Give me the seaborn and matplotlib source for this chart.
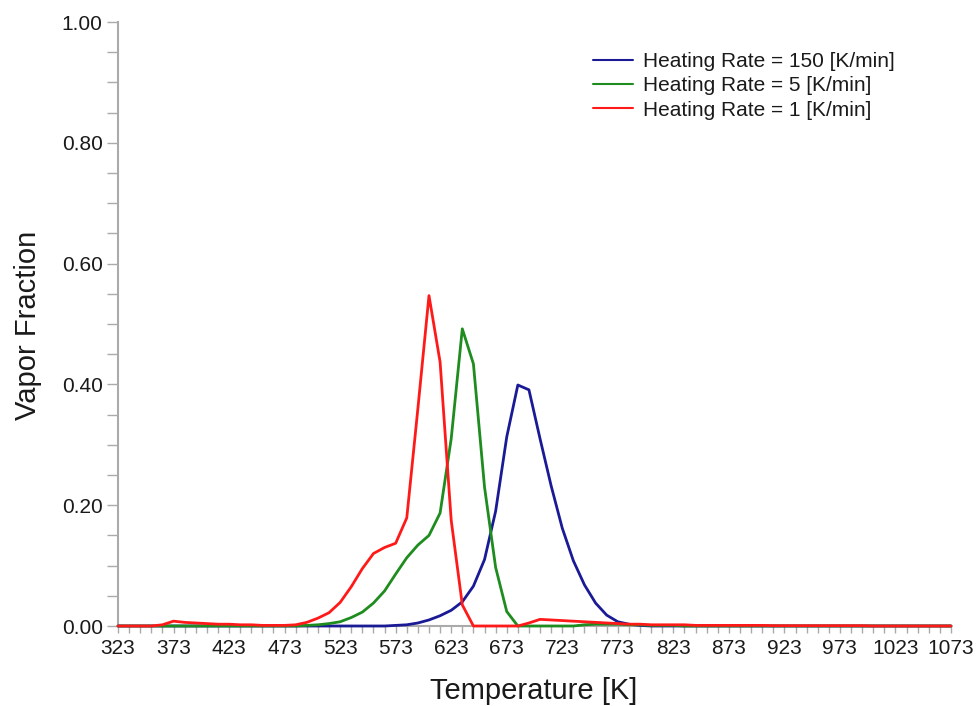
import matplotlib
matplotlib.use("Agg")
import matplotlib.pyplot as plt
import seaborn as sns
import pandas as pd

# Temperature grid [K], sampled every 10 K
temperature = list(range(323, 1074, 10))

# Vapor fraction for each heating rate
vf_150 = [0.0] * 25 + [
    0.001, 0.002, 0.005, 0.010, 0.017, 0.026, 0.040, 0.066, 0.110, 0.190,
    0.313, 0.399, 0.391, 0.310, 0.232, 0.162, 0.108, 0.068, 0.038, 0.018,
    0.007, 0.003, 0.001,
] + [0.0] * 28

vf_5 = [0.0] * 17 + [
    0.001, 0.002, 0.004, 0.007, 0.014, 0.023, 0.038, 0.058, 0.086, 0.113,
    0.134, 0.150, 0.187, 0.310, 0.492, 0.434, 0.230, 0.097, 0.024, 0.0,
    0.0, 0.0, 0.0, 0.0, 0.0, 0.002, 0.003, 0.003, 0.003, 0.002,
    0.002, 0.001, 0.001, 0.001,
] + [0.0] * 25

vf_1 = [
    0.0, 0.0, 0.0, 0.0, 0.002, 0.008, 0.006, 0.005, 0.004, 0.003,
    0.003, 0.002, 0.002, 0.001, 0.001, 0.001, 0.002, 0.006, 0.013, 0.022,
    0.039, 0.065, 0.095, 0.120, 0.130, 0.137, 0.179, 0.360, 0.547, 0.437,
    0.175, 0.035, 0.0, 0.0, 0.0, 0.0, 0.0, 0.005, 0.011, 0.010,
    0.009, 0.008, 0.007, 0.006, 0.005, 0.004, 0.003, 0.003, 0.002, 0.002,
    0.002, 0.002, 0.001, 0.001, 0.001, 0.001, 0.001, 0.001, 0.001, 0.0005,
    0.0005, 0.0005, 0.0005, 0.0005, 0.0005, 0.0005, 0.0005, 0.0005, 0.0, 0.0,
    0.0, 0.0, 0.0, 0.0, 0.0, 0.0,
]

series_labels = [
    "Heating Rate = 150 [K/min]",
    "Heating Rate = 5 [K/min]",
    "Heating Rate = 1 [K/min]",
]
series_colors = ["#1a1a96", "#1e8c1e", "#ff1a1a"]

x_ticks = list(range(323, 1074, 50))
y_ticks = [0.0, 0.2, 0.4, 0.6, 0.8, 1.0]

sns.set_theme(style="ticks")
plt.rcParams["font.family"] = ["Liberation Sans", "DejaVu Sans"]

df = pd.DataFrame({
    "T": temperature * 3,
    "vf": vf_150 + vf_5 + vf_1,
    "series": [series_labels[0]] * len(temperature)
    + [series_labels[1]] * len(temperature)
    + [series_labels[2]] * len(temperature),
})

fig = plt.figure(figsize=(9.77, 7.06), dpi=100)
ax = fig.add_axes([118 / 977, 1 - 626 / 706, (951 - 118) / 977, (626 - 22) / 706])

sns.lineplot(
    data=df, x="T", y="vf", hue="series", hue_order=series_labels,
    palette=dict(zip(series_labels, series_colors)), linewidth=2.0,
    ax=ax, sort=False, estimator=None, legend=True,
)
for ln in ax.get_lines():
    ln.set_clip_on(False)
    ln.set_zorder(3)

ax.set_xlim(323, 1073)
ax.set_ylim(0, 1.0)
ax.set_xticks(x_ticks)
ax.set_xticks(list(range(323, 1074, 10)), minor=True)
ax.set_yticks(y_ticks)
ax.set_yticks([i * 0.05 for i in range(21)], minor=True)
ax.set_xticklabels([str(t) for t in x_ticks], fontsize=15, color="#1a1a1a")
ax.set_yticklabels([f"{v:.2f}" for v in y_ticks], fontsize=15, color="#1a1a1a")

ax.tick_params(axis="x", which="both", length=5, width=1, color="#aaaaaa",
               direction="out", pad=4)
ax.tick_params(axis="y", which="both", length=8, width=1, color="#aaaaaa",
               direction="out", pad=3)

for side in ("top", "right"):
    ax.spines[side].set_visible(False)
for side in ("left", "bottom"):
    ax.spines[side].set_color("#aaaaaa")
    ax.spines[side].set_linewidth(1.5)

ax.set_xlabel("Temperature [K]", fontsize=21, color="#1a1a1a")
ax.set_ylabel("Vapor Fraction", fontsize=21, color="#1a1a1a")
ax.xaxis.set_label_coords(0.4994, -0.084)
ax.yaxis.set_label_coords(-0.091, 0.497)

leg = ax.legend(
    loc="upper left", bbox_to_anchor=(0.5477, 0.981), frameon=False,
    fontsize=15, handlelength=1.92, handletextpad=0.48, labelspacing=0.25,
)
for h in leg.get_lines():
    h.set_linewidth(1.5)
for t in leg.get_texts():
    t.set_color("#1a1a1a")

fig.savefig("out.png", dpi=100, facecolor="white")
